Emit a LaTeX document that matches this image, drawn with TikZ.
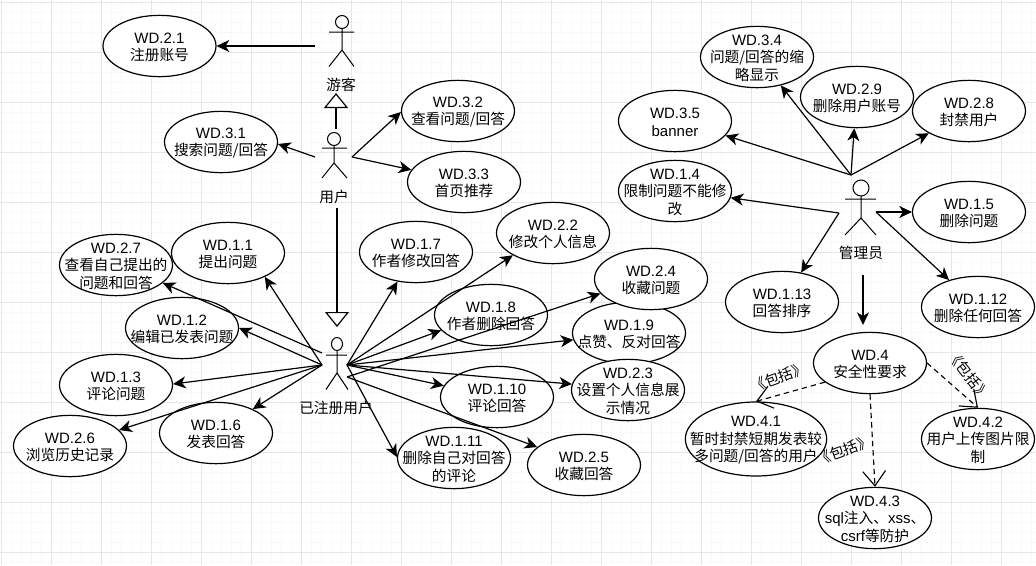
\documentclass[tikz,border=0pt]{standalone}
\usepackage{fontspec}
\setmainfont{Liberation Sans}
\newfontfamily\cjk{Noto Sans CJK SC}[Scale=0.98]
\usetikzlibrary{arrows.meta,shapes.geometric}
\definecolor{gridmajor}{HTML}{E6E6E6}
\definecolor{gridminor}{HTML}{F8F8F8}
\tikzset{
  px/.style={x=0.75pt,y=-0.75pt},
  ucshape/.style={draw=black,fill=white,ellipse,line width=0.9pt,minimum width=84.75pt,minimum height=46pt,inner sep=0pt},
  lbl/.style={inner sep=0pt,align=center,font=\fontsize{11.25}{13.1}\selectfont},
  stick/.style={draw=black,line width=0.75pt},
  assoc/.style={draw=black,line width=0.9pt,-{Stealth[length=9.5pt,width=9pt,inset=2.8pt]}},
  gen/.style={draw=black,line width=0.9pt,-{Triangle[open,length=11.25pt,width=18pt,fill=white]}},
  incl/.style={draw=black,line width=0.85pt,dash pattern=on 4pt off 3pt,-{Straight Barb[length=11pt,width=17pt,line width=0.85pt]}},
}
\newcommand{\usecase}[4][]{\node[ucshape,#1] (#2) at (#3) {}; \node[lbl,yshift=-1pt] (#2t) at (#2.center) {#4};}
\begin{document}
\begin{tikzpicture}[px]
\useasboundingbox (0,0) rectangle (1036,565);
\fill[white] (0,0) rectangle (1036,565);
\foreach \x in {11,21,...,1031} \draw[gridminor,line width=0.5pt] (\x,0) -- (\x,565);
\foreach \y in {12,22,...,562} \draw[gridminor,line width=0.5pt] (0,\y) -- (1036,\y);
\foreach \x in {1,51,...,1031} \draw[gridmajor,line width=0.6pt] (\x,0) -- (\x,565);
\foreach \y in {2,52,...,552} \draw[gridmajor,line width=0.6pt] (0,\y) -- (1036,\y);

% use cases
\usecase{e21}{159.5,46}{WD.2.1\\{\cjk 注册账号}}
\usecase{e31}{221,142}{WD.3.1\\{\cjk 搜索问题/回答}}
\usecase{e32}{458,111}{WD.3.2\\{\cjk 查看问题/回答}}
\usecase{e33}{464,182}{WD.3.3\\{\cjk 首页推荐}}
\usecase{e27}{116,265}{WD.2.7\\{\cjk 查看自己提出的}\\{\cjk 问题和回答}}
\usecase{e11}{228,253}{WD.1.1\\{\cjk 提出问题}}
\usecase{e17}{416,252}{WD.1.7\\{\cjk 作者修改回答}}
\usecase{e22}{553,233}{WD.2.2\\{\cjk 修改个人信息}}
\usecase{e12}{182,328}{WD.1.2\\{\cjk 编辑已发表问题}}
\usecase{e13}{116,385}{WD.1.3\\{\cjk 评论问题}}
\usecase{e16}{216,433}{WD.1.6\\{\cjk 发表回答}}
\usecase{e26}{70,446}{WD.2.6\\{\cjk 浏览历史记录}}
\usecase{e18}{491,315}{WD.1.8\\{\cjk 作者删除回答}}
\usecase{e110}{497,397}{WD.1.10\\{\cjk 评论回答}}
\usecase{e111}{454,458}{WD.1.11\\{\cjk 删除自己对回答}\\{\cjk 的评论}}
\usecase{e19}{629,333}{WD.1.9\\{\cjk 点赞、反对回答}}
\usecase{e24}{651,279}{WD.2.4\\{\cjk 收藏问题}}
\usecase{e23}{628,390}{WD.2.3\\{\cjk 设置个人信息展}\\{\cjk 示情况}}
\usecase{e25}{584,465}{WD.2.5\\{\cjk 收藏回答}}
\usecase{e34}{757,57}{WD.3.4\\{\cjk 问题/回答的缩}\\{\cjk 略显示}}
\usecase{e29}{857,97}{WD.2.9\\{\cjk 删除用户账号}}
\usecase{e28}{969,111}{WD.2.8\\{\cjk 封禁用户}}
\usecase{e35}{675,121}{WD.3.5\\banner}
\usecase{e14}{675,191}{WD.1.4\\{\cjk 限制问题不能修}\\{\cjk 改}}
\usecase{e15}{969,212}{WD.1.5\\{\cjk 删除问题}}
\usecase{e113}{782,302}{WD.1.13\\{\cjk 回答排序}}
\usecase{e112}{978,307}{WD.1.12\\{\cjk 删除任何回答}}
\usecase{e4}{870,363}{WD.4\\{\cjk 安全性要求}}
\usecase[minimum width=106pt,minimum height=55.5pt]{e41}{756,439}{WD.4.1\\{\cjk 暂时封禁短期发表较}\\{\cjk 多问题/回答的用户}}
\usecase{e42}{978,439}{WD.4.2\\{\cjk 用户上传图片限}\\{\cjk 制}}
\usecase{e43}{875,518}{WD.4.3\\sql{\cjk 注入、}xss{\cjk 、}\\csrf{\cjk 等防护}}

% actors
\draw[stick] (342,22) circle (6.5);
\draw[stick] (342,28.5) -- (342,50) (329,32) -- (354,32) (329,66.5) -- (342,50) -- (354,66.5);
\node[lbl] (guest) at (341,85) {\cjk 游客};
\draw[stick] (334,139) circle (6.5);
\draw[stick] (334,145.5) -- (334,163) (322,148) -- (347,148) (322,178) -- (334,163) -- (347,178);
\node[lbl] (user) at (334,197) {\cjk 用户};
\draw[stick] (337,344) ellipse [x radius=5.5,y radius=6.5];
\draw[stick] (337,350.5) -- (337,373) (326,355) -- (347,355) (326,389.5) -- (337,373) -- (348,389.5);
\node[lbl] (reg) at (336,408) {\cjk 已注册用户};
\draw[stick] (861,188) circle (8);
\draw[stick] (861,196) -- (861,218) (845,199) -- (876,199) (845,235) -- (861,218) -- (876,235);
\node[lbl] (admin) at (861,253) {\cjk 管理员};

% free ends
\coordinate (gL) at (315,46);
\coordinate (uL) at (315,157);
\coordinate (uR) at (352,157);
\coordinate (uT) at (336,129);
\coordinate (gB) at (336,93);
\coordinate (uB) at (337,208);
\coordinate (rT) at (337,327);
\coordinate (rL) at (322,365);
\coordinate (rLa) at (322,353);
\coordinate (rR) at (347,365);
\coordinate (rRb) at (347,377);
\coordinate (aT) at (851,175);
\coordinate (aL) at (839,213);
\coordinate (aR) at (876,212);
\coordinate (aB) at (863,275);
\coordinate (e4in) at (863,325);

% connectors
\draw[assoc] (gL) -- (e21.east);
\draw[assoc] (uL) -- (e31.-2);
\draw[assoc] (uR) -- (e32.181);
\draw[assoc] (uR) -- (e33.167);
\draw[gen] (uT) -- (gB);
\draw[gen] (uB) -- (rT);
\draw[assoc] (rL) -- (e11.-33);
\draw[assoc] (rLa) -- (e27.-21);
\draw[assoc] (rL) -- (e12.east);
\draw[assoc] (rL) -- (e13.1);
\draw[assoc] (rL) -- (e16.33);
\draw[assoc] (rL) -- (e26.18);
\draw[assoc] (rR) -- (e17.-122);
\draw[assoc] (rR) -- (e22.-151);
\draw[assoc] (rR) -- (e18.-163);
\draw[assoc] (rRb) -- (e24.-164);
\draw[assoc] (rR) -- (e19.-173);
\draw[assoc] (rR) -- (e110.168);
\draw[assoc] (rR) -- (e23.174);
\draw[assoc] (rRb) -- (e25.159);
\draw[assoc] (rR) -- (e111.179);
\draw[assoc] (aT) -- (e34.-50);
\draw[assoc] (aT) -- (e29.-95);
\draw[assoc] (aT) -- (e28.-151);
\draw[assoc] (aT) -- (e35.-16);
\draw[assoc] (aL) -- (e14.-7);
\draw[assoc] (aL) -- (e113.57);
\draw[assoc] (aR) -- (e15.west);
\draw[assoc] (aR) -- (e112.137);
\draw[assoc] (aB) -- (e4in);
\draw[incl] (e4.-157) -- (e41.north);
\draw[incl] (e4.east) -- (e42.north);
\draw[incl] (e4.south) -- (e43.north);
\node[lbl,rotate=20] (t1) at (779,377) {\cjk 《包括》};
\node[lbl,rotate=-52] (t2) at (969,375) {\cjk 《包括》};
\node[lbl,rotate=20] (t3) at (844,450) {\cjk 《包括》};
\end{tikzpicture}
\end{document}
